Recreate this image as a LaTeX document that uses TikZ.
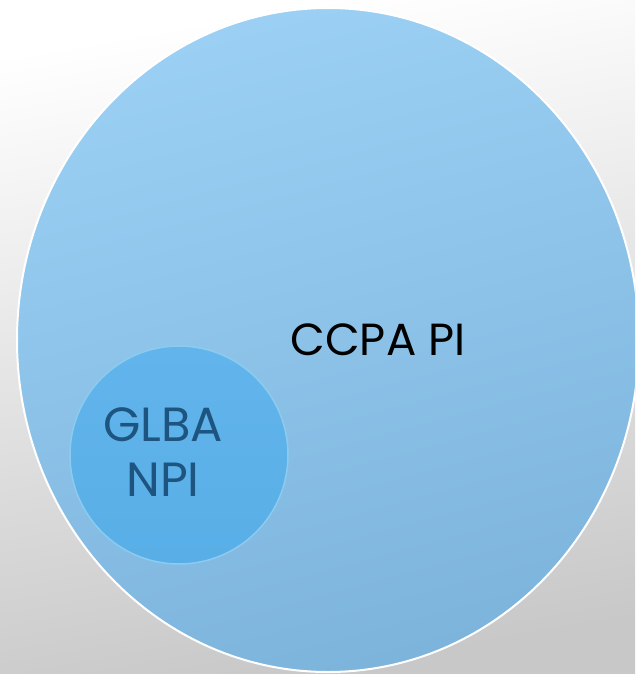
\documentclass[tikz,border=0pt]{standalone}
\usepackage{fontspec}
\setmainfont{Poppins}
\usetikzlibrary{shapes.geometric}
\definecolor{bgtop}{HTML}{FFFFFF}
\definecolor{bgbot}{HTML}{C8C8C8}
\definecolor{bigtop}{HTML}{9BD0F4}
\definecolor{bigbot}{HTML}{7DB4DC}
\definecolor{smalltop}{HTML}{62B5EC}
\definecolor{smallbot}{HTML}{58AEE6}
\definecolor{smallrim}{HTML}{8CCBF0}
\definecolor{glbatext}{HTML}{1D5580}
\tikzset{
  bigset/.style={ellipse, minimum width=622pt, minimum height=664pt, inner sep=0pt,
    draw=white, line width=2pt, top color=bigtop, bottom color=bigbot, shading angle=15},
  smallset/.style={circle, minimum size=218pt, inner sep=0pt,
    draw=smallrim, line width=1.5pt, top color=smalltop, bottom color=smallbot},
  biglabel/.style={font=\fontsize{45}{54}\selectfont, text=black},
  smalllabel/.style={font=\fontsize{48}{55}\selectfont, text=glbatext, align=center}
}
\begin{document}
\begin{tikzpicture}[x=1pt,y=-1pt]
  \useasboundingbox (0,0) rectangle (635,674);
  \shade[top color=bgtop, bottom color=bgbot, shading angle=10] (0,0) rectangle (635,674);
  \begin{scope}
    \clip (0,0) rectangle (635,674);
    \node[bigset] (ccpa) at (328,340) {};
    \node[smallset] (glba) at (179,455) {};
  \end{scope}
  \node[biglabel] (ccpaText) at (378,340) {CCPA PI};
  \node[smalllabel] (glbaText) at (163,452) {GLBA\\NPI};
\end{tikzpicture}
\end{document}
